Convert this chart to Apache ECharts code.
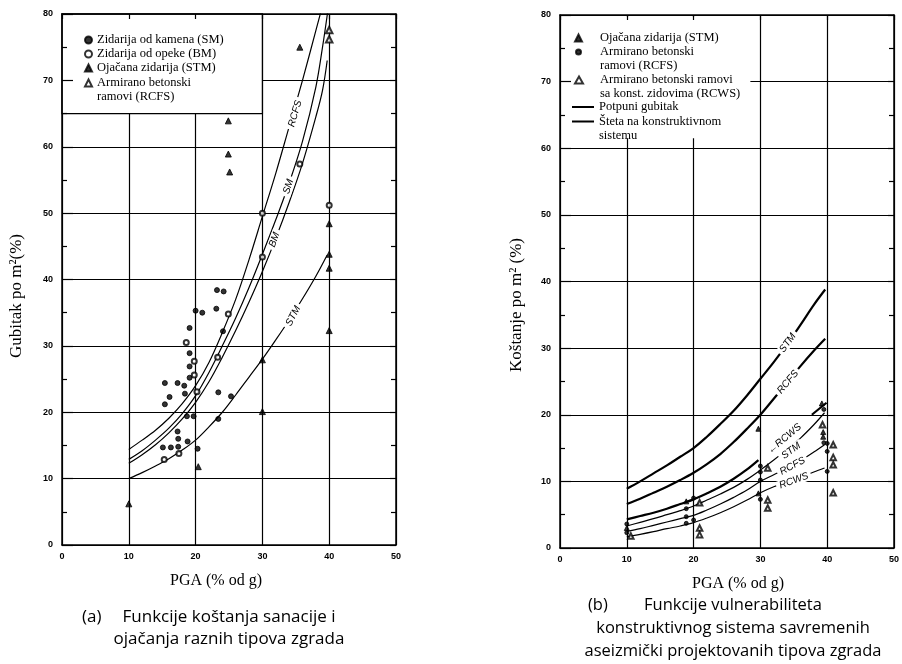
<!DOCTYPE html>
<html>
<head>
<meta charset="utf-8">
<script src="https://cdn.jsdelivr.net/npm/echarts@6/dist/echarts.min.js"></script>
<style>html,body{margin:0;padding:0;background:#fff}#c{width:902px;height:664px}</style>
</head>
<body>
<div id="c"></div>
<script>
// ---------------- DATA ----------------
const xTickValues = [0, 10, 20, 30, 40, 50];
const yTickValues = [0, 10, 20, 30, 40, 50, 60, 70, 80];

// Panel (a): cost functions (curves)
const aX_RCFS = [10, 12, 14, 16, 18, 20, 22, 24, 26, 28, 30, 32, 34, 36, 38, 39.2];
const aY_RCFS = [14.4, 15.8, 17.3, 19.1, 21.3, 24.0, 27.5, 32.0, 37.0, 43.0, 49.5, 56.0, 63.0, 70.0, 77.5, 82.0];
const aX_SM = [10, 12, 14, 16, 18, 20, 22, 24, 26, 28, 30, 32, 34, 36, 38, 39, 39.8];
const aY_SM = [12.9, 14.2, 15.8, 17.6, 19.8, 22.5, 26.0, 30.0, 34.2, 38.8, 43.8, 49.0, 54.5, 60.8, 69.0, 75.0, 80.5];
const aX_BM = [10, 12, 14, 16, 18, 20, 22, 24, 26, 28, 30, 32, 34, 36, 38, 39, 39.7];
const aY_BM = [12.3, 13.6, 15.1, 16.9, 19.0, 21.5, 24.6, 28.3, 32.3, 36.6, 41.2, 46.2, 51.6, 57.5, 64.5, 68.5, 73.0];
const aX_STM = [10, 12, 14, 16, 18, 20, 22, 24, 26, 28, 30, 32, 34, 36, 38, 39.7];
const aY_STM = [10.0, 10.9, 11.9, 13.0, 14.3, 15.8, 17.8, 20.0, 22.6, 25.3, 28.0, 30.9, 33.9, 37.1, 40.5, 43.7];

// Panel (a): observed points
const aPts_SM = [[23.2,38.4],[24.2,38.2],[20.0,35.3],[21.0,35.0],[23.1,35.6],[19.1,32.7],[19.1,28.9],[19.1,26.9],[19.1,25.2],
  [15.4,24.4],[17.3,24.4],[18.3,24.0],[16.1,22.3],[18.4,22.8],[15.4,21.2],[23.4,23.0],[25.3,22.4],[18.7,19.4],[19.7,19.4],
  [17.3,17.1],[17.4,16.0],[15.1,14.7],[16.3,14.7],[17.4,14.8],[18.8,15.6],[20.3,14.5],[23.4,19.0],[24.1,32.2]];
const aPts_BM = [[24.9,34.8],[18.6,30.5],[19.8,27.7],[19.8,25.6],[20.2,23.1],[23.3,28.3],[15.3,12.9],[17.5,13.8],
  [30,50.0],[30,43.4],[35.6,57.4],[40,51.2]];
const aPts_STM = [[10,6.2],[20.4,11.8],[30,27.9],[30,20.1],[40,48.4],[40,43.8],[40,41.7],[40,32.3],
  [24.9,63.9],[24.9,58.9],[25.1,56.2],[35.6,75.0]];
const aPts_RCFS = [[40,77.6],[40,76.2]];

// Panel (b): vulnerability functions (curves)
const bX = [10, 12, 14, 16, 18, 20, 22, 24, 26, 28, 30, 32, 34, 36, 38, 39.7];
const bY_STM_total = [8.9, 10.0, 11.2, 12.4, 13.7, 15.0, 16.7, 18.6, 20.6, 22.9, 25.4, 27.9, 30.6, 33.5, 36.5, 38.8];
const bY_RCFS_total = [6.6, 7.4, 8.3, 9.2, 10.2, 11.3, 12.6, 14.1, 15.9, 17.9, 20.0, 22.4, 24.8, 27.3, 29.6, 31.4];
const bX_RCWS_total = [10, 12, 14, 16, 18, 20, 22, 24, 26, 28, 29.7, 33.5, 37.7, 39.9];
const bY_RCWS_total = [4.3, 4.8, 5.3, 5.9, 6.6, 7.3, 8.2, 9.2, 10.4, 11.8, 13.2, null, 20.0, 21.8];
const bXs = [10, 12, 14, 16, 18, 20, 22, 24, 26, 28, 30, 32, 34, 36, 38, 39.6];
const bY_STM_struct = [3.3, 3.85, 4.4, 5.0, 5.6, 6.3, 7.2, 8.1, 9.1, 10.3, 11.7, 13.2, 14.8, 16.5, 18.5, 20.3];
const bY_RCFS_struct = [2.5, 2.9, 3.4, 3.9, 4.4, 4.9, 5.7, 6.6, 7.6, 8.7, 10.0, 11.0, 12.0, 13.1, 14.4, 15.5];
const bY_RCWS_struct = [1.7, 2.05, 2.45, 2.9, 3.3, 3.8, 4.5, 5.3, 6.2, 7.2, 8.3, 9.2, 9.9, 10.6, 11.4, 12.0];

// Panel (b): observed points
const bPts_STM = [[10,3.0],[18.9,7.0],[29.7,17.9],[29.7,8.2],[39.2,21.7],[39.4,17.4],[39.4,16.7]];
const bPts_RCFS = [[10,3.6],[10,2.3],[18.9,5.9],[18.9,4.7],[18.9,3.7],[20,7.5],[20,4.2],[30,12.3],[30,11.4],[30,10.2],
  [30,7.3],[39.5,20.8],[39.5,15.8],[40,14.5],[40,11.5],[40,15.7]];
const bPts_RCWS = [[10.6,1.8],[20.9,6.8],[20.9,3.0],[20.9,2.0],[31.1,12.0],[31.1,7.2],[31.1,6.0],[39.3,18.5],
  [40.9,15.5],[40.9,13.6],[40.9,12.5],[40.9,8.3]];

// Texts
const nmSM = 'Zidarija od kamena (SM)';
const nmBM = 'Zidarija od opeke (BM)';
const nmSTM = 'Ojačana zidarija (STM)';
const nmRCFS = 'Armirano betonski\nramovi (RCFS)';
const nmRCWS = 'Armirano betonski ramovi\nsa konst. zidovima (RCWS)';
const nmTotal = 'Potpuni gubitak';
const nmStruct = 'Šteta na konstruktivnom\nsistemu';

// ---------------- CHART ----------------
const chart = echarts.init(document.getElementById('c'));
const zip = (xs, ys) => xs.map((x, i) => [x, ys[i]]);
const BLACK = '#000';
const NONE = 'rgba(0,0,0,0)';
const serif = 'Liberation Serif';
const sans = 'Liberation Sans';

function curveLabel(text, coord, rotate) {
  return {
    silent: true, symbol: 'rect', symbolSize: 1, itemStyle: { color: NONE },
    label: { show: true, position: 'inside', formatter: text, rotate: rotate, color: BLACK,
      fontFamily: sans, fontSize: 10, fontStyle: 'italic', backgroundColor: '#fff', padding: [0, 3] },
    data: [{ coord: coord }]
  };
}
function curve(name, data, g, width, lbl) {
  const s = { type: 'line', name: name, xAxisIndex: g * 2, yAxisIndex: g * 3, data: data, symbol: 'none',
    smooth: 0.35, connectNulls: false, silent: true, z: 3,
    lineStyle: { color: BLACK, width: width }, itemStyle: { color: NONE } };
  if (lbl) s.markPoint = lbl;
  return s;
}
function pts(name, data, g, symbol, size, bw) {
  return { type: 'scatter', name: name, xAxisIndex: g * 2, yAxisIndex: g * 3, data: data, symbol: symbol,
    symbolSize: size, silent: true, z: 4,
    itemStyle: { color: BLACK, borderColor: BLACK, borderWidth: bw == null ? 1 : bw } };
}

const axLine = { show: true, onZero: false, lineStyle: { color: BLACK, width: 1.5 } };
const split = { show: true, lineStyle: { color: BLACK, width: 1.2 } };
function xAxes(g, namePad) {
  return [
    { gridIndex: g, type: 'value', min: xTickValues[0], max: xTickValues[xTickValues.length - 1], interval: 10,
      position: 'bottom', axisLine: axLine, axisTick: { show: false }, splitLine: split,
      axisLabel: { color: BLACK, fontSize: 9, fontWeight: 'bold', fontFamily: sans, margin: 7 },
      name: 'PGA (% od g)', nameLocation: 'middle', nameGap: 28,
      nameTextStyle: { fontFamily: serif, fontSize: 16, color: BLACK, padding: namePad } },
    { gridIndex: g, type: 'value', min: 0, max: 50, interval: 10, position: 'top', z: 3,
      axisLine: axLine, axisTick: { show: true, inside: true, length: 5, lineStyle: { color: BLACK, width: 1.2 } },
      axisLabel: { show: false }, splitLine: { show: false } }
  ];
}
function yAxes(g, name, gap, shift) {
  const base = { gridIndex: g, type: 'value', min: yTickValues[0], max: yTickValues[yTickValues.length - 1], interval: 10 };
  return [
    Object.assign({}, base, { position: 'left', axisLine: { show: false }, axisTick: { show: false }, splitLine: split,
      axisLabel: { color: BLACK, fontSize: 9, fontWeight: 'bold', fontFamily: sans, margin: 9 },
      name: name, nameLocation: 'middle', nameGap: gap,
      nameTextStyle: { fontFamily: serif, fontSize: 17, color: BLACK, padding: [0, shift, 0, 0] } }),
    Object.assign({}, base, { position: 'left', z: 3, axisLine: axLine,
      axisTick: { show: true, inside: true, length: 11, lineStyle: { color: BLACK, width: 1.2 } },
      minorTick: { show: true, splitNumber: 2, length: 5, lineStyle: { color: BLACK, width: 1.2 } },
      axisLabel: { show: false }, splitLine: { show: false } }),
    Object.assign({}, base, { position: 'right', z: 3, axisLine: axLine,
      axisTick: { show: true, inside: true, length: 6, lineStyle: { color: BLACK, width: 1.2 } },
      minorTick: { show: true, splitNumber: 2, length: 5, lineStyle: { color: BLACK, width: 1.2 } },
      axisLabel: { show: false }, splitLine: { show: false } })
  ];
}

const rcfsA = curve('RCFS', zip(aX_RCFS, aY_RCFS), 0, 1.2, curveLabel('RCFS', [34.9, 65], 74));
rcfsA.markArea = { silent: true, itemStyle: { color: '#fff', borderColor: BLACK, borderWidth: 1.3 },
  data: [[{ coord: [0, 65] }, { coord: [30, 80] }]] };
const stmTotalB = curve(nmTotal, zip(bX, bY_STM_total), 1, 2.2, curveLabel('STM', [34.1, 30.8], 54));
stmTotalB.markArea = { silent: true, itemStyle: { color: '#fff', borderWidth: 0 },
  data: [[{ coord: [0.3, 61.5] }, { coord: [28.5, 79.7] }]] };

const series = [
  rcfsA,
  curve('SM', zip(aX_SM, aY_SM), 0, 1.2, curveLabel('SM', [33.9, 54], 72)),
  curve('BM', zip(aX_BM, aY_BM), 0, 1.2, curveLabel('BM', [31.8, 46], 70)),
  curve('STM', zip(aX_STM, aY_STM), 0, 1.2, curveLabel('STM', [34.6, 34.5], 62)),
  pts(nmSM, aPts_SM, 0, 'circle', 5),
  pts(nmBM, aPts_BM, 0, 'emptyCircle', 5),
  pts(nmSTM, aPts_STM, 0, 'triangle', 6),
  pts(nmRCFS, aPts_RCFS, 0, 'emptyTriangle', 6.5, 0.9),

  stmTotalB,
  curve(nmTotal, zip(bX, bY_RCFS_total), 1, 2.2, curveLabel('RCFS', [34.1, 24.9], 50)),
  curve(nmTotal, zip(bX_RCWS_total, bY_RCWS_total), 1, 2.2, curveLabel('←RCWS', [33.6, 16.4], 40)),
  curve(nmStruct, zip(bXs, bY_STM_struct), 1, 1.2, curveLabel('STM', [34.6, 14.6], 36)),
  curve(nmStruct, zip(bXs, bY_RCFS_struct), 1, 1.2, curveLabel('RCFS', [34.8, 12.3], 28)),
  curve(nmStruct, zip(bXs, bY_RCWS_struct), 1, 1.2, curveLabel('RCWS', [35.0, 10.1], 20)),
  pts(nmSTM, bPts_STM, 1, 'triangle', 5),
  pts(nmRCFS, bPts_RCFS, 1, 'circle', 4),
  pts(nmRCWS, bPts_RCWS, 1, 'emptyTriangle', 5.5, 0.9)
];

// one legend block per entry; two-line entries get a leading empty line
// so that the centred icon sits on the first line of text
function leg(name, icon, left, top, iconW, twoLines, textShift) {
  const item = icon ? { name: name, icon: icon } : { name: name };
  const l = { orient: 'vertical', left: left, top: top, itemWidth: iconW, itemHeight: 7, padding: 0,
    selectedMode: false, data: [item],
    textStyle: { fontFamily: serif, fontSize: 12.5, lineHeight: 14, color: BLACK,
      padding: [0, 0, 0, textShift || 0] } };
  if (twoLines) l.formatter = n => '\n' + n;
  return l;
}

const option = {
  backgroundColor: '#fff',
  animation: false,
  grid: [
    { left: 62, top: 14, width: 334, height: 531 },
    { left: 560, top: 15, width: 335, height: 533 }
  ],
  xAxis: [].concat(xAxes(0, [0, 26, 0, 0]), xAxes(1, [0, 0, 0, 22])),
  yAxis: [].concat(yAxes(0, 'Gubitak po m²(%)', 37, 33), yAxes(1, 'Koštanje po m² (%)', 35, 47)),
  legend: [
    leg(nmSM, 'circle', 84, 33, 7, false),
    leg(nmBM, 'emptyCircle', 84, 47, 7, false),
    leg(nmSTM, 'triangle', 84, 61, 7, false),
    leg(nmRCFS, 'emptyTriangle', 84, 62, 7, true),
    leg(nmSTM, 'triangle', 574, 31, 7, false, 13),
    leg(nmRCFS, 'circle', 575, 31, 5, true, 14),
    leg(nmRCWS, 'emptyTriangle', 574, 59, 8, true, 12),
    leg(nmTotal, null, 571, 100, 22, false),
    leg(nmStruct, null, 571, 100.5, 22, true)
  ],
  graphic: [
    { type: 'text', x: 82, y: 606, style: { text: '(a)', font: '17px "Open Sans"', fill: BLACK, lineHeight: 22 } },
    { type: 'text', x: 229, y: 606, style: { text: 'Funkcije koštanja sanacije i\nojačanja raznih tipova zgrada',
      font: '17px "Open Sans"', fill: BLACK, align: 'center', lineHeight: 22 } },
    { type: 'text', x: 588, y: 594, style: { text: '(b)', font: '16.5px "Open Sans"', fill: BLACK, lineHeight: 23 } },
    { type: 'text', x: 733, y: 594, style: { text: 'Funkcije vulnerabiliteta\nkonstruktivnog sistema savremenih\naseizmički projektovanih tipova zgrada',
      font: '16.5px "Open Sans"', fill: BLACK, align: 'center', lineHeight: 23 } }
  ],
  series: series
};
chart.setOption(option);
</script>
</body>
</html>
